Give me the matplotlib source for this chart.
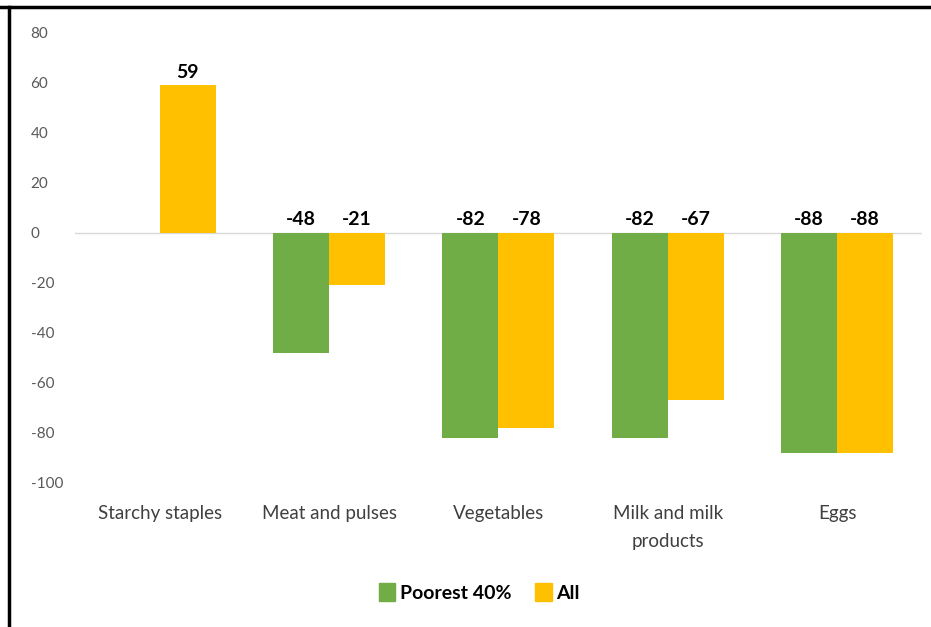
import numpy as np
import matplotlib
matplotlib.use("Agg")
import matplotlib.pyplot as plt
from matplotlib.lines import Line2D
from matplotlib.patches import Patch

plt.rcParams["font.family"] = ["Lato", "DejaVu Sans"]

categories = ["Starchy staples", "Meat and pulses", "Vegetables", "Milk and milk\nproducts", "Eggs"]
poorest_40 = [np.nan, -48, -82, -82, -88]
all_hh = [59, -21, -78, -67, -88]
yticks = [80, 60, 40, 20, 0, -20, -40, -60, -80, -100]

GREEN, YELLOW = "#70AD47", "#FFC000"

fig = plt.figure(figsize=(9.31, 6.27), dpi=100)
ax = fig.add_axes([0.0806, 0.2297, 0.9094, 0.7177])

x = np.arange(len(categories))
w = 0.33
ax.bar(x - w / 2, poorest_40, w, color=GREEN, label="Poorest 40%")
ax.bar(x + w / 2, all_hh, w, color=YELLOW, label="All")

# value labels sit above the zero line (or above the bar if positive)
for xs, vals in [(x - w / 2, poorest_40), (x + w / 2, all_hh)]:
    for xi, v in zip(xs, vals):
        if np.isnan(v):
            continue
        ax.text(xi, max(v, 0) + 1.8, f"{v:.0f}", ha="center", va="bottom",
                fontsize=14, fontweight="bold", color="black")

ax.axhline(0, color="#D9D9D9", lw=1, zorder=0)
ax.set_xlim(-0.5, len(categories) - 0.5)
ax.set_ylim(-100, 80)
ax.set_yticks(yticks)
ax.set_yticklabels([str(t) for t in yticks], ha="left")
ax.tick_params(axis="y", length=0, pad=32, labelsize=11, labelcolor="#595959")
ax.set_xticks(x)
ax.set_xticklabels(categories, fontsize=13.5, color="#404040", linespacing=1.75)
ax.tick_params(axis="x", length=0, pad=16)
for s in ax.spines.values():
    s.set_visible(False)

handles = [Patch(color=GREEN, label="Poorest 40%"), Patch(color=YELLOW, label="All")]
fig.legend(handles=handles, loc="center", bbox_to_anchor=(0.515, 0.055), ncol=2,
           frameon=False, handlelength=0.85, handleheight=1.0, handletextpad=0.25,
           columnspacing=1.2, prop={"weight": "bold", "size": 14})

# frame lines along top and left edge
fig.add_artist(Line2D([0, 1], [1 - 7 / 627] * 2, color="black", lw=2.5, transform=fig.transFigure))
fig.add_artist(Line2D([9 / 931] * 2, [0, 1 - 7 / 627], color="black", lw=2.5, transform=fig.transFigure))

fig.savefig("out.png", dpi=100, facecolor="white")
